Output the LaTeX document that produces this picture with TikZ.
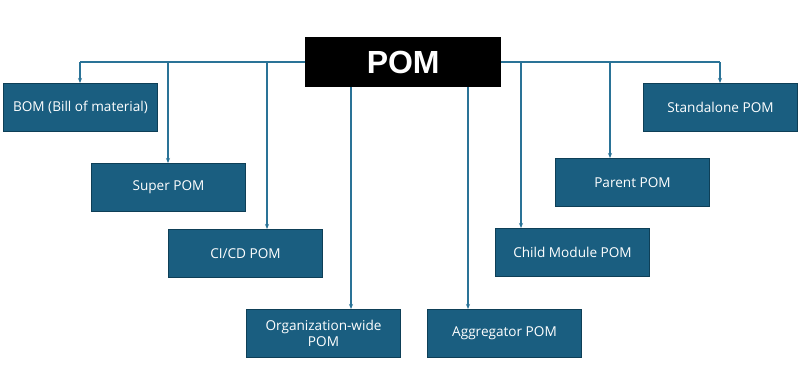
\documentclass[tikz,border=0pt]{standalone}
\usepackage{fontspec}
\setmainfont{Open Sans}
\newfontfamily\titlefont{Liberation Sans}
\usetikzlibrary{arrows.meta,calc}
\definecolor{boxfill}{HTML}{1A5E80}
\definecolor{boxline}{HTML}{0E3F57}
\definecolor{linkcol}{HTML}{2A7397}
\begin{document}
\begin{tikzpicture}[x=1pt,y=-1pt,
  item/.style={draw=boxline, line width=1pt, fill=boxfill, text=white, font=\fontsize{13.6}{16.5}\selectfont,
    minimum width=154pt, minimum height=48pt, inner sep=2pt, align=center, anchor=north west},
  link/.style={draw=linkcol, line width=1.2pt, -{Stealth[length=5pt,width=4pt]}},
  plain/.style={draw=linkcol, line width=1.2pt}]
\useasboundingbox (0,0) rectangle (800,375);
\fill[white] (0,0) rectangle (800,375);
\node[fill=black, minimum width=196pt, minimum height=50pt, anchor=north west, inner sep=0pt,
  text=white, font=\titlefont\bfseries\fontsize{32}{36}\selectfont] (pom) at (305,37) {POM};
\node[item] (bom) at (3,83) {BOM (Bill of material)};
\node[item] (super) at (91,163) {Super POM};
\node[item] (cicd) at (168,229) {CI/CD POM};
\node[item] (org) at (246,309) {Organization-wide\\POM};
\node[item] (agg) at (427,309) {Aggregator POM};
\node[item] (child) at (495,228) {Child Module POM};
\node[item] (parent) at (555,158) {Parent POM};
\node[item] (stand) at (643,83) {Standalone POM};
\coordinate (lj) at (80,62);
\coordinate (rj) at (720,62);
\draw[plain] (pom.west |- lj) -- (lj);
\draw[plain] (pom.east |- rj) -- (rj);
\draw[link] (lj) -- (bom.north -| lj);
\draw[link] (rj) -- (stand.north -| rj);
\draw[link] (168,62) coordinate (s1) -- (super.north -| s1);
\draw[link] (267,62) coordinate (s2) -- (cicd.north -| s2);
\draw[link] (521,62) coordinate (s3) -- (child.north -| s3);
\draw[link] (610,62) coordinate (s4) -- (parent.north -| s4);
\coordinate (s5) at (351,0);
\coordinate (s6) at (468,0);
\draw[link] (pom.south -| s5) -- (org.north -| s5);
\draw[link] (pom.south -| s6) -- (agg.north -| s6);
\end{tikzpicture}
\end{document}
